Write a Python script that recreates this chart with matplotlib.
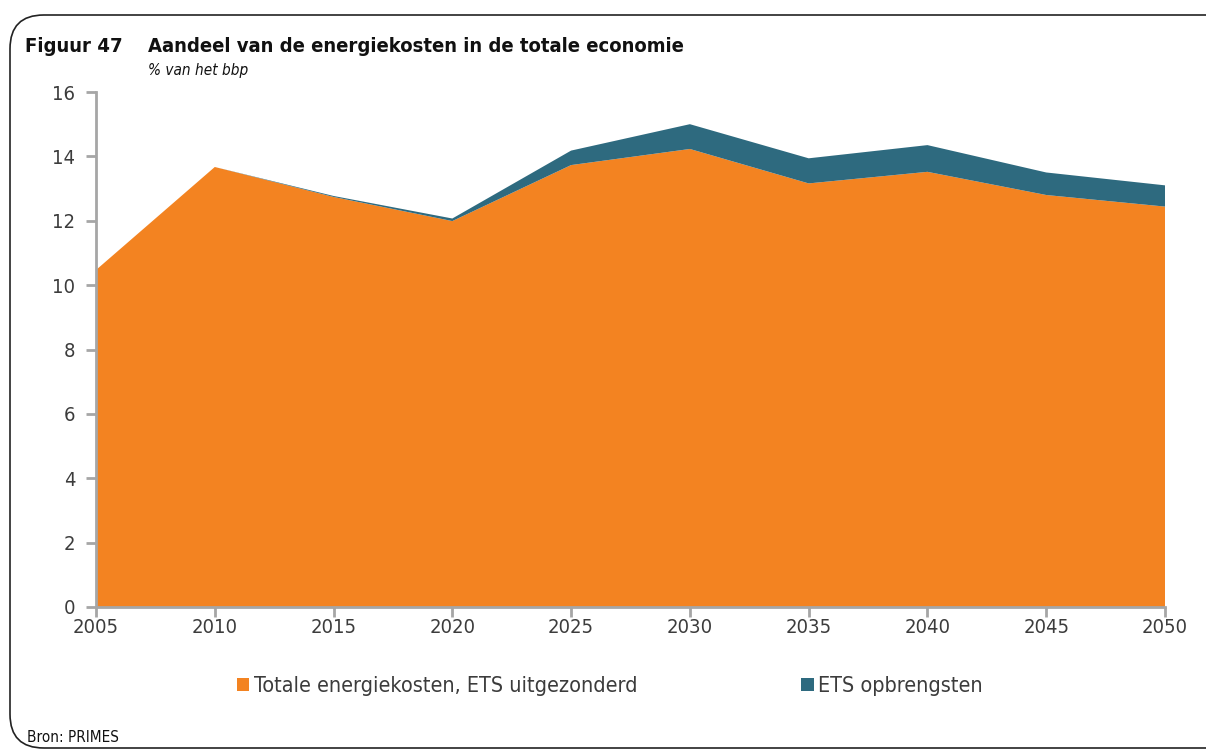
import matplotlib
matplotlib.use("Agg")
import matplotlib.pyplot as plt
from matplotlib.patches import FancyBboxPatch, Patch

# Energy cost share of GDP, PRIMES projections
years = [2005, 2010, 2015, 2020, 2025, 2030, 2035, 2040, 2045, 2050]
energy_costs = [10.47, 13.67, 12.74, 11.99, 13.73, 14.23, 13.16, 13.52, 12.80, 12.44]
ets_revenue = [0.0, 0.0, 0.03, 0.08, 0.45, 0.77, 0.78, 0.83, 0.70, 0.66]
y_ticks = [0, 2, 4, 6, 8, 10, 12, 14, 16]

series_labels = ["Totale energiekosten, ETS uitgezonderd", "ETS opbrengsten"]
colors = ["#F38321", "#2E6A7F"]

plt.rcParams["font.family"] = ["DejaVu Sans"]
plt.rcParams["font.stretch"] = "condensed"

fig = plt.figure(figsize=(12.06, 7.52), dpi=100)

# rounded frame around the whole figure (runs off the right edge)
frame = FancyBboxPatch((10 / 1206, 4 / 752), 1.2, 733 / 752,
                       boxstyle="round,pad=0,rounding_size=0.028",
                       transform=fig.transFigure, fill=False,
                       edgecolor="#222222", linewidth=1.2, mutation_aspect=1206 / 752)
fig.patches.append(frame)

ax = fig.add_axes([96 / 1206, 1 - 607 / 752, (1165 - 96) / 1206, (607 - 92) / 752])
ax.stackplot(years, energy_costs, ets_revenue, colors=colors, linewidth=0)

ax.set_xlim(2005, 2050)
ax.set_ylim(0, 16)
ax.set_xticks(years)
ax.set_yticks(y_ticks)
for side in ["top", "right"]:
    ax.spines[side].set_visible(False)
for side in ["left", "bottom"]:
    ax.spines[side].set_color("#a6a6a6")
    ax.spines[side].set_linewidth(2)
ax.tick_params(axis="both", colors="#a6a6a6", width=2, length=7,
               labelcolor="#3c3c3c", labelsize=14.5)
ax.tick_params(axis="x", pad=1)
ax.tick_params(axis="y", pad=8)

fig.text(25 / 1206, 1 - 47 / 752, "Figuur 47", fontsize=14.5, fontweight="bold",
         color="#111111", va="center", ha="left")
fig.text(148 / 1206, 1 - 47 / 752, "Aandeel van de energiekosten in de totale economie",
         fontsize=14.5, fontweight="bold", color="#111111", va="center", ha="left")
fig.text(148 / 1206, 1 - 70 / 752, "% van het bbp", fontsize=11, style="italic",
         color="#111111", va="center", ha="left")
fig.text(27 / 1206, 1 - 738 / 752, "Bron: PRIMES", fontsize=11,
         color="#111111", va="center", ha="left")

handles = [Patch(facecolor=c, edgecolor="none") for c in colors]
fig.legend(handles, series_labels, loc="center", bbox_to_anchor=(0.506, 1 - 686 / 752),
           ncol=2, frameon=False, fontsize=15.5, handlelength=0.56, handleheight=0.56,
           handletextpad=0.23, columnspacing=7.6, labelcolor="#3c3c3c")

fig.savefig("out.png", dpi=100)
